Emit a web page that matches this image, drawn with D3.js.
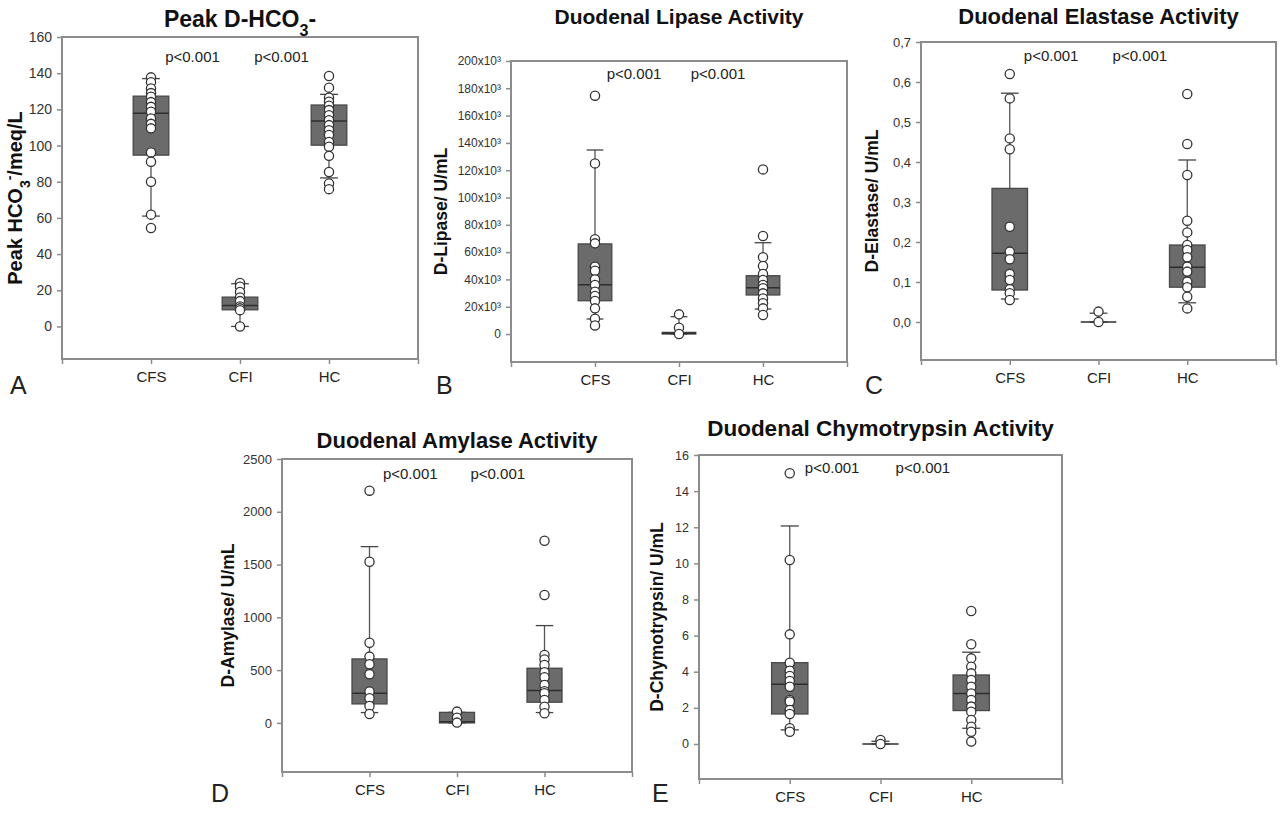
<!DOCTYPE html>
<html>
<head>
<meta charset="utf-8">
<script src="https://cdn.jsdelivr.net/npm/d3@7"></script>
<style>
  body { margin: 0; background: #fff; }
  text { font-family: "Liberation Sans", Arial, sans-serif; }
</style>
</head>
<body>
<svg width="1282" height="813"></svg>
<script>
// groups on the x axis
var categories = ["CFS", "CFI", "HC"];

// box stats per group: [lower whisker, q1, median, q3, upper whisker]
// A - peak bicarbonate
var hcoBoxes = [[61, 94.7, 117.8, 127.3, 137], [0, 9.2, 11.6, 16.2, 23.6], [82.1, 100.2, 113.5, 122.4, 128.3]];
var hcoPoints = [
  [137.7, 135, 131.6, 129, 127, 124, 121.4, 118.7, 115, 112, 109.5, 96.2, 91, 80, 61.8, 54.4],
  [24, 22, 19, 16, 14, 11, 10, 9, 0],
  [138.4, 132, 126.4, 124.2, 122, 119.6, 116.8, 114, 111.3, 108.5, 105.8, 102, 99.3, 94.3, 85.4, 79, 75.9]
];
var hcoTicks = [0, 20, 40, 60, 80, 100, 120, 140, 160];

// B - lipase
var lipaseBoxes = [[11000, 24400, 36000, 66000, 134800], [0, 0, 500, 1200, 12700], [18300, 28600, 33900, 42700, 66900]];
var lipasePoints = [
  [174600, 125000, 69400, 66400, 49300, 46400, 40000, 35900, 31000, 27800, 24200, 18800, 11200, 6300],
  [14400, 4600, 0],
  [120600, 71800, 56200, 49800, 44000, 39600, 35900, 33500, 29800, 26100, 22500, 18800, 13900]
];
var lipaseTicks = [0, 20000, 40000, 60000, 80000, 100000, 120000, 140000, 160000, 180000, 200000];

// C - elastase
var elastaseBoxes = [[0.0575, 0.08, 0.172, 0.334, 0.572], [0, 0, 0, 0, 0.022], [0.048, 0.087, 0.137, 0.1925, 0.405]];
var elastasePoints = [
  [0.62, 0.559, 0.459, 0.432, 0.238, 0.176, 0.157, 0.12, 0.105, 0.082, 0.072, 0.055],
  [0.026, 0],
  [0.57, 0.445, 0.3675, 0.253, 0.224, 0.1925, 0.18, 0.162, 0.138, 0.126, 0.101, 0.087, 0.063, 0.034]
];
var elastaseTicks = [0, 0.1, 0.2, 0.3, 0.4, 0.5, 0.6, 0.7];

// D - amylase
var amylaseBoxes = [[98, 180, 281, 606, 1670], [0, 0, 12, 100, 100], [98, 196, 306, 518, 922]];
var amylasePoints = [
  [2200, 1527, 760, 628, 556, 461, 297, 234, 161, 85],
  [107, 50, 3],
  [1726, 1212, 644, 600, 549, 480, 433, 360, 300, 281, 218, 154, 92]
];
var amylaseTicks = [0, 500, 1000, 1500, 2000, 2500];

// E - chymotrypsin
var chymoBoxes = [[0.78, 1.66, 3.3, 4.5, 12.07], [0, 0, 0, 0, 0.15], [0.87, 1.85, 2.8, 3.82, 5.08]];
var chymoPoints = [
  [14.99, 10.19, 6.07, 4.5, 4.06, 3.77, 3.49, 3.17, 2.44, 2.35, 1.88, 1.66, 0.87, 0.68],
  [0.22, 0],
  [7.36, 5.52, 4.74, 4.28, 3.91, 3.54, 3.17, 2.8, 2.44, 2.07, 1.79, 1.33, 0.96, 0.68, 0.13]
];
var chymoTicks = [0, 2, 4, 6, 8, 10, 12, 14, 16];

var pLabel = "p<0.001";

var svg = d3.select("svg");

// layout for each panel (frame = left, top, right, bottom in px)
var panels = [
  { letter: "A", title: [["Peak D-HCO", 0], ["3", "sub"], ["-", 0]], titleSize: 23,
    ylabel: [["Peak HCO", 0], ["3", "sub"], ["-", "super"], ["/meq/L", 0]], ylabelSize: 20,
    boxes: hcoBoxes, points: hcoPoints, ticks: hcoTicks, fmt: d3.format("d"), tickSize: 14,
    frame: [62, 37, 418, 359], domain: [-18, 160], pVal: 149,
    titleY: 27, letterPos: [10, 394], ylabelX: 22 },
  { letter: "B", title: [["Duodenal Lipase Activity", 0]], titleSize: 21,
    ylabel: [["D-Lipase/ U/mL", 0]], ylabelSize: 17.5,
    boxes: lipaseBoxes, points: lipasePoints, ticks: lipaseTicks,
    fmt: function(d) { return d === 0 ? "0" : (d / 1000) + "x10\u00b3"; }, tickSize: 12,
    frame: [511, 61, 847, 362], domain: [-20500, 200000], pVal: 191000,
    titleY: 24, letterPos: [436, 394], ylabelX: 447 },
  { letter: "C", title: [["Duodenal Elastase Activity", 0]], titleSize: 22,
    ylabel: [["D-Elastase/ U/mL", 0]], ylabelSize: 17.5,
    boxes: elastaseBoxes, points: elastasePoints, ticks: elastaseTicks,
    fmt: function(d) { return d3.format(".1f")(d).replace(".", ","); }, tickSize: 13,
    frame: [921, 42, 1276, 360], domain: [-0.095, 0.7], pVal: 0.665,
    titleY: 24, letterPos: [865, 394], ylabelX: 878 },
  { letter: "D", title: [["Duodenal Amylase Activity", 0]], titleSize: 22,
    ylabel: [["D-Amylase/ U/mL", 0]], ylabelSize: 17.5,
    boxes: amylaseBoxes, points: amylasePoints, ticks: amylaseTicks, fmt: d3.format("d"), tickSize: 13,
    frame: [282, 459, 632, 772], domain: [-465, 2500], pVal: 2358,
    titleY: 448, letterPos: [211, 802], ylabelX: 234 },
  { letter: "E", title: [["Duodenal Chymotrypsin Activity", 0]], titleSize: 22.5,
    ylabel: [["D-Chymotrypsin/ U/mL", 0]], ylabelSize: 17.5,
    boxes: chymoBoxes, points: chymoPoints, ticks: chymoTicks, fmt: d3.format("d"), tickSize: 12.5,
    frame: [699, 455, 1062, 779], domain: [-1.94, 16], pVal: 15.3,
    titleY: 436, letterPos: [652, 802], ylabelX: 663 }
];

var frameColor = "#8c8c8c";

function addRich(sel, parts, size) {
  parts.forEach(function(pt) {
    var t = sel.append("tspan").text(pt[0]);
    if (pt[1] === "sub") t.attr("baseline-shift", "sub").attr("font-size", size * 0.7);
    if (pt[1] === "super") t.attr("baseline-shift", "super").attr("font-size", size * 0.7);
  });
}

panels.forEach(function(p) {
  var f = p.frame;
  var g = svg.append("g");
  var x = d3.scaleLinear().domain([0, 4]).range([f[0], f[2]]);
  var y = d3.scaleLinear().domain(p.domain).range([f[3], f[1]]);
  var step = x(1) - x(0);

  // y axis
  var ya = g.append("g")
    .attr("transform", "translate(" + f[0] + ",0)")
    .call(d3.axisLeft(y).tickValues(p.ticks).tickSize(5).tickPadding(5).tickFormat(p.fmt));
  ya.select(".domain").remove();
  ya.selectAll("line").attr("stroke", frameColor).attr("stroke-width", 1.5);
  ya.selectAll("text").attr("font-size", p.tickSize).attr("fill", "#333").style("font-family", "Liberation Sans, Arial, sans-serif");

  // x axis
  var xa = g.append("g")
    .attr("transform", "translate(0," + f[3] + ")")
    .call(d3.axisBottom(x).tickValues([0, 1, 2, 3, 4]).tickSize(5).tickPadding(7)
      .tickFormat(function(i) { return categories[i - 1] || ""; }));
  xa.select(".domain").remove();
  xa.selectAll("line").attr("stroke", frameColor).attr("stroke-width", 1.5);
  xa.selectAll("text").attr("font-size", 15).attr("fill", "#222").style("font-family", "Liberation Sans, Arial, sans-serif");

  // frame
  g.append("rect")
    .attr("x", f[0]).attr("y", f[1])
    .attr("width", f[2] - f[0]).attr("height", f[3] - f[1])
    .attr("fill", "none").attr("stroke", frameColor).attr("stroke-width", 2);

  // boxes
  var bx = g.selectAll(".bx").data(p.boxes).enter().append("g");
  bx.append("line")
    .attr("x1", function(d, i) { return x(i + 1); }).attr("x2", function(d, i) { return x(i + 1); })
    .attr("y1", function(d) { return y(d[0]); }).attr("y2", function(d) { return y(d[4]); })
    .attr("stroke", "#555").attr("stroke-width", 1.3);
  [0, 4].forEach(function(k) {
    bx.append("line")
      .attr("x1", function(d, i) { return x(i + 1) - 0.1 * step; })
      .attr("x2", function(d, i) { return x(i + 1) + 0.1 * step; })
      .attr("y1", function(d) { return y(d[k]); }).attr("y2", function(d) { return y(d[k]); })
      .attr("stroke", "#444").attr("stroke-width", 1.3);
  });
  bx.append("rect")
    .attr("x", function(d, i) { return x(i + 1) - 0.2 * step; })
    .attr("width", 0.4 * step)
    .attr("y", function(d) { return y(d[3]); })
    .attr("height", function(d) { return y(d[1]) - y(d[3]); })
    .attr("fill", "#6b6b6b").attr("stroke", "#484848").attr("stroke-width", 1.3);
  bx.append("line")
    .attr("x1", function(d, i) { return x(i + 1) - 0.2 * step; })
    .attr("x2", function(d, i) { return x(i + 1) + 0.2 * step; })
    .attr("y1", function(d) { return y(d[2]); }).attr("y2", function(d) { return y(d[2]); })
    .attr("stroke", "#2e2e2e").attr("stroke-width", 1.5);

  // points
  p.points.forEach(function(vals, i) {
    g.selectAll(null).data(vals).enter().append("circle")
      .attr("cx", x(i + 1)).attr("cy", function(d) { return y(d); })
      .attr("r", 4.6)
      .attr("fill", "#fff").attr("stroke", "#333").attr("stroke-width", 1.3);
  });

  // p-values
  [1.5, 2.5].forEach(function(pos) {
    g.append("text")
      .attr("x", x(pos) - 3).attr("y", y(p.pVal)).attr("dy", "0.35em")
      .attr("text-anchor", "middle").attr("font-size", 15).attr("fill", "#222")
      .text(pLabel);
  });

  // title
  var t = g.append("text")
    .attr("x", x(2)).attr("y", p.titleY)
    .attr("text-anchor", "middle").attr("font-size", p.titleSize).attr("font-weight", "bold").attr("fill", "#111");
  addRich(t, p.title, p.titleSize);

  // y label
  var yl = g.append("text")
    .attr("transform", "translate(" + p.ylabelX + "," + ((f[1] + f[3]) / 2) + ") rotate(-90)")
    .attr("text-anchor", "middle").attr("font-size", p.ylabelSize).attr("font-weight", "bold").attr("fill", "#111");
  addRich(yl, p.ylabel, p.ylabelSize);

  // panel letter
  g.append("text")
    .attr("x", p.letterPos[0]).attr("y", p.letterPos[1])
    .attr("font-size", 25).attr("fill", "#222")
    .text(p.letter);
});
</script>
</body>
</html>
